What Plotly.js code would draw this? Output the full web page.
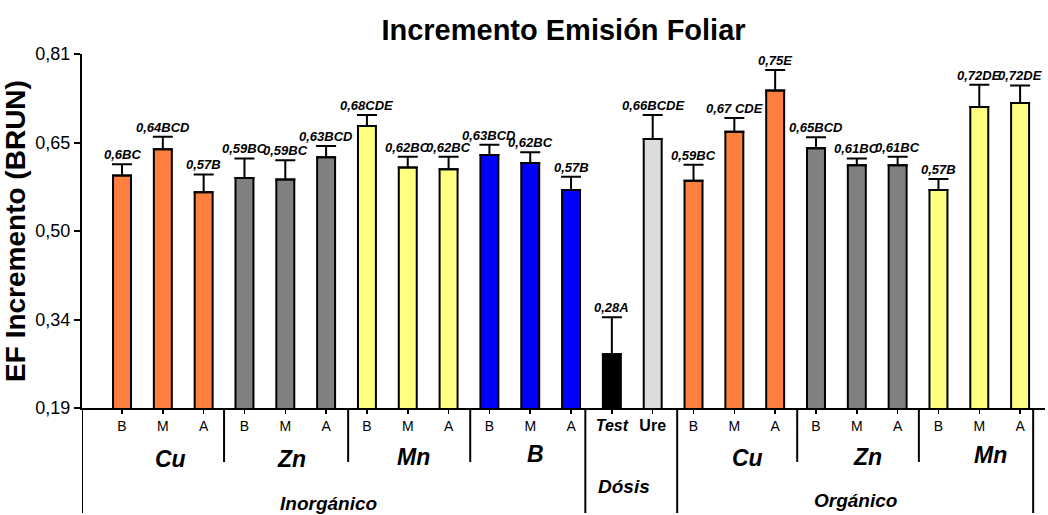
<!DOCTYPE html>
<html>
<head>
<meta charset="utf-8">
<script src="https://cdn.plot.ly/plotly-3.0.1.min.js"></script>
<style>html,body{margin:0;padding:0;background:#fff;}#chart{width:1048px;height:515px;}</style>
</head>
<body>
<div id="chart"></div>
<script>
// ---- data ----
const tickLabels = ["B","M","A","B","M","A","B","M","A","B","M","A","Test","Ure","B","M","A","B","M","A","B","M","A"];
const groups = ["Cu","Cu","Cu","Zn","Zn","Zn","Mn","Mn","Mn","B","B","B","Test","Ure","Cu","Cu","Cu","Zn","Zn","Zn","Mn","Mn","Mn"];
const values = [0.597,0.643,0.568, 0.593,0.590,0.629, 0.684,0.611,0.608, 0.633,0.619,0.572, 0.284,0.661, 0.588,0.674,0.746, 0.645,0.615,0.615, 0.572,0.717,0.724];
const errors = [0.020,0.022,0.031, 0.034,0.034,0.020, 0.019,0.019,0.022, 0.018,0.019,0.023, 0.065,0.042, 0.028,0.024,0.036, 0.019,0.012,0.015, 0.019,0.039,0.031];
const barLabels = ["0,6BC","0,64BCD","0,57B","0,59BC","0,59BC","0,63BCD","0,68CDE","0,62BC","0,62BC","0,63BCD","0,62BC","0,57B","0,28A","0,66BCDE","0,59BC","0,67 CDE","0,75E","0,65BCD","0,61BC","0,61BC","0,57B","0,72DE","0,72DE"];
const yTickVals = [0.19,0.345,0.50,0.655,0.81];
const yTickText = ["0,19","0,34","0,50","0,65","0,81"];
const elementLabels = ["Cu","Zn","Mn","B","Cu","Zn","Mn"];
const familyLabels = ["Inorgánico","Dósis","Orgánico"];

// ---- styles ----
const colourMap = {Cu:"#FF7F3F", Zn:"#808080", Mn:"#FFFF80", B:"#0000FF", Test:"#000000", Ure:"#DCDCDC"};
const FONT = "Arial, 'Liberation Sans', sans-serif";
const idx = values.map((v,i)=>i);
const PX0 = 408, PXPERUNIT = 354; // plot bottom in px, plot height
const py = p => (PX0 - p)/PXPERUNIT;

const trace = {
  type: "bar",
  x: idx,
  y: values,
  width: 0.44,
  marker: {color: groups.map(g=>colourMap[g]), line: {color: "#000", width: 2}},
  error_y: {type: "data", symmetric: false, array: errors, arrayminus: values.map(()=>0), color: "#000", thickness: 2, width: 10},
  hoverinfo: "skip",
  showlegend: false
};

const tickText = tickLabels.map(t => (t === "Test") ? "<span style='font-size:16px'><b><i>Test</i></b></span>" :
                                     (t === "Ure") ? "<span style='font-size:16px'><b>Ure</b></span>" : t);

const annotations = [];
values.forEach((v,i)=>{
  annotations.push({x: i, y: v + errors[i], xref: "x", yref: "y", text: barLabels[i], showarrow: false,
    yanchor: "bottom", yshift: 0, font: {family: FONT, size: 13, color: "#000", weight: "bold", style: "italic"}});
});
// element group labels (x index, y px)
const elemPos = [[1.2,459],[4.15,459],[7.13,457],[10.14,454],[15.31,458],[18.26,457],[21.27,455]];
elementLabels.forEach((t,k)=>{
  annotations.push({x: elemPos[k][0], y: py(elemPos[k][1]), xref: "x", yref: "paper", text: t, showarrow: false,
    xanchor: "center", yanchor: "middle", font: {family: FONT, size: 23, color: "#000", weight: "bold", style: "italic"}});
});
const famPos = [[5.05,503],[12.3,486],[17.96,500]];
familyLabels.forEach((t,k)=>{
  annotations.push({x: famPos[k][0], y: py(famPos[k][1]), xref: "x", yref: "paper", text: t, showarrow: false,
    xanchor: "center", yanchor: "middle", font: {family: FONT, size: 19, color: "#000", weight: "bold", style: "italic"}});
});

// separators
const shapes = [];
const shortSep = [2.5, 5.54, 8.53, 16.54, 19.52];
const longSep = [-0.98, 11.35, 13.6, 22.32];
shortSep.forEach(x=>shapes.push({type:"line", xref:"x", yref:"paper", x0:x, x1:x, y0:0, y1:py(462), line:{color:"#000", width:2}}));
longSep.forEach(x=>shapes.push({type:"line", xref:"x", yref:"paper", x0:x, x1:x, y0:0, y1:py(513), line:{color:"#000", width:2}}));

const layout = {
  width: 1048, height: 515,
  margin: {l: 82, r: 3, t: 54, b: 107, pad: 0},
  paper_bgcolor: "#fff", plot_bgcolor: "#fff",
  font: {family: FONT, color: "#000"},
  title: {text: "Incremento Emisión Foliar", font: {family: FONT, size: 29, color: "#000", weight: "bold"},
          x: 0.5, xref: "paper", xanchor: "center", y: 1 - 30/515, yref: "container", yanchor: "middle"},
  xaxis: {range: [-0.98, 22.61], tickmode: "array", tickvals: idx, ticktext: tickText,
          tickfont: {family: FONT, size: 14, color: "#000"}, ticks: "outside", ticklen: 4, tickwidth: 1.5, tickcolor: "#000",
          showline: true, linecolor: "#000", linewidth: 2, showgrid: false, zeroline: false, fixedrange: true},
  yaxis: {range: [0.19, 0.81], tickmode: "array", tickvals: yTickVals, ticktext: yTickText,
          tickfont: {family: FONT, size: 18, color: "#000"}, ticks: "outside", ticklen: 6, tickwidth: 2, tickcolor: "#000",
          showline: true, linecolor: "#000", linewidth: 2, showgrid: false, zeroline: false, fixedrange: true,
          title: {text: "EF Incremento (BRUN)", font: {family: FONT, size: 28, color: "#000", weight: "bold"}, standoff: 2}},
  annotations: annotations,
  shapes: shapes,
  bargap: 0.5
};

Plotly.newPlot("chart", [trace], layout, {displayModeBar: false, staticPlot: true});
</script>
</body>
</html>
